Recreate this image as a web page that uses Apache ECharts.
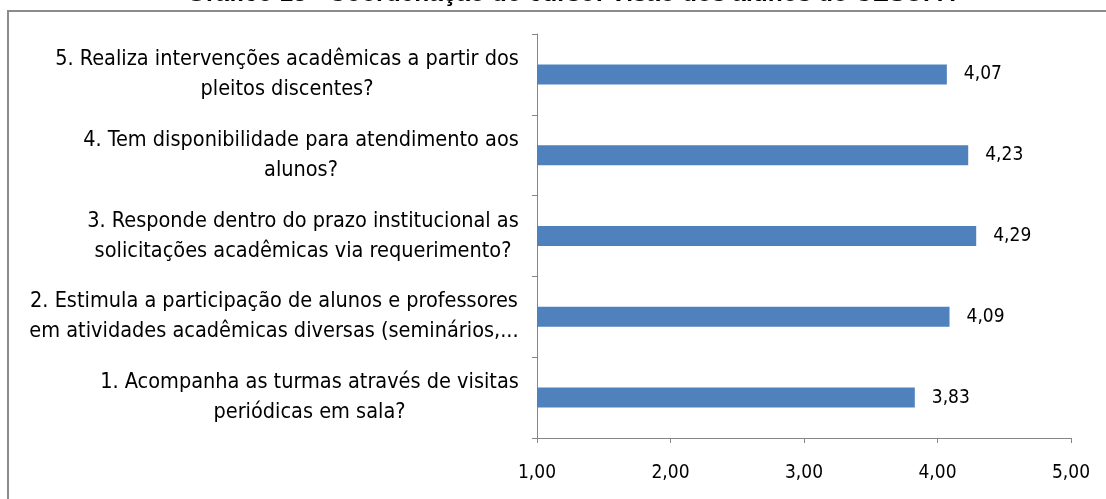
<!DOCTYPE html>
<html>
<head>
<meta charset="utf-8">
<style>
  html, body { margin: 0; padding: 0; background: #ffffff; }
  #chart { width: 1106px; height: 499px; }
</style>
<script src="https://cdn.jsdelivr.net/npm/echarts@6/dist/echarts.min.js"></script>
</head>
<body>
<div id="chart"></div>
<script>
// Questions, from bottom (1) to top (5); each split into its two printed lines
const questions = [
  ['1. Acompanha as turmas através de visitas', 'periódicas em sala?'],
  ['2. Estimula a participação de alunos e professores', 'em atividades acadêmicas diversas (seminários,...'],
  ['3. Responde dentro do prazo institucional as', 'solicitações acadêmicas via requerimento?'],
  ['4. Tem disponibilidade para atendimento aos', 'alunos?'],
  ['5. Realiza intervenções acadêmicas a partir dos', 'pleitos discentes?']
];
const scores = [3.83, 4.09, 4.29, 4.23, 4.07];
const titleText = 'Gráfico 13 - Coordenação do curso: Visão dos alunos do CESUPA';

const fmt = v => v.toFixed(2).replace('.', ',');
const condensed = '"DejaVu Sans Condensed", "Liberation Sans", sans-serif';
const qSize = 21.5;
const numSize = 19;
const axisGray = '#868686';

// Each question block is as wide as its longest line; lines are centred inside it
const measureCtx = document.createElement('canvas').getContext('2d');
measureCtx.font = qSize + 'px ' + condensed;
const rich = {};
questions.forEach((q, i) => {
  const w = Math.ceil(Math.max(...q.map(s => measureCtx.measureText(s).width)));
  rich['q' + i] = {
    fontSize: qSize, lineHeight: 30, color: '#000000',
    fontFamily: condensed, align: 'center', width: w
  };
});

const chart = echarts.init(document.getElementById('chart'), null, { renderer: 'canvas' });

chart.setOption({
  animation: false,
  backgroundColor: '#ffffff',
  grid: { left: 537, right: 35, top: 34, bottom: 61, containLabel: false },
  xAxis: {
    type: 'value',
    min: 1, max: 5, interval: 1,
    axisLine: { show: true, lineStyle: { color: axisGray, width: 1 } },
    axisTick: { show: true, length: 5, lineStyle: { color: axisGray } },
    splitLine: { show: false },
    axisLabel: {
      formatter: v => fmt(v),
      color: '#000000', fontSize: numSize, margin: 26,
      fontFamily: condensed
    }
  },
  yAxis: {
    type: 'category',
    data: questions.map(q => q.join('\n')),
    axisLine: { show: true, lineStyle: { color: axisGray, width: 1 } },
    axisTick: { show: true, length: 5, lineStyle: { color: axisGray } },
    axisLabel: {
      margin: 18,
      formatter: (v, i) => v.split('\n').map(s => '{q' + i + '|' + s + '}').join('\n'),
      rich: rich
    }
  },
  series: [{
    type: 'bar',
    data: scores,
    barWidth: 20,
    itemStyle: { color: '#4F81BD' },
    label: {
      show: true, position: 'right', distance: 17,
      formatter: p => fmt(p.value),
      color: '#000000', fontSize: numSize,
      fontFamily: condensed
    }
  }],
  graphic: [
    {
      type: 'rect', silent: true,
      shape: { x: 8, y: 11, width: 1200, height: 600 },
      style: { fill: 'none', stroke: '#8c8c8c', lineWidth: 2 }
    },
    {
      type: 'text', silent: true,
      x: 571, y: 7,
      style: {
        text: titleText,
        font: 'bold 24.5px "Liberation Sans", sans-serif',
        fill: '#000000',
        align: 'center', verticalAlign: 'bottom'
      }
    }
  ]
});
</script>
</body>
</html>
